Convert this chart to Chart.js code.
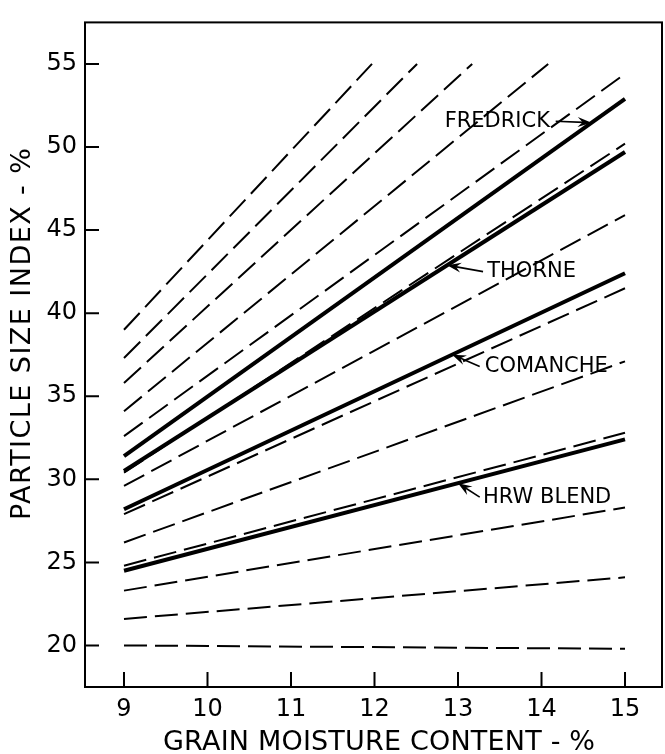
<!DOCTYPE html>
<html>
<head>
<meta charset="utf-8">
<script src="https://cdn.jsdelivr.net/npm/chart.js@4.4.1/dist/chart.umd.min.js"></script>
<style>
  html, body { margin: 0; padding: 0; background: #fff; }
  canvas { display: block; }
</style>
</head>
<body>
<canvas id="chart" width="665" height="754"></canvas>
<script>
// tick values
const xTicks = [9, 10, 11, 12, 13, 14, 15];
const yTicks = [20, 25, 30, 35, 40, 45, 50, 55];

// wheat varieties (solid lines), values at 9 % and 15 % moisture
const varieties = ['FREDRICK', 'THORNE', 'COMANCHE', 'HRW BLEND'];
const varietyStart = [31.4, 30.5, 28.2, 24.5];
const varietyEnd = [52.9, 49.7, 42.4, 32.4];

// background family of dashed lines: start at 9 %, end point (x, y)
const dashStart = [39.0, 37.3, 35.8, 34.1, 32.6, 30.4, 29.6, 27.9, 26.2, 24.8, 23.3, 21.6, 20.0];
const dashEndX = [11.97, 12.51, 13.17, 14.08, 15, 15, 15, 15, 15, 15, 15, 15, 15];
const dashEndY = [55, 55, 55, 55, 54.4, 50.2, 45.9, 41.5, 37.1, 32.8, 28.3, 24.1, 19.8];

// label placement (data units): text left x, text y, arrow tail x, arrow tip x
const labelX = [12.84, 13.35, 13.32, 13.30];
const labelY = [51.55, 42.5, 36.79, 28.93];
const arrowFromX = [14.17, 13.30, 13.26, 13.26];
const arrowToX = [14.60, 12.87, 12.93, 13.00];

const FONT = "'DejaVu Sans', sans-serif";
Chart.defaults.font.family = FONT;
Chart.defaults.color = '#000';

const datasets = [];
varieties.forEach((name, i) => {
  datasets.push({
    label: name,
    data: [{ x: 9, y: varietyStart[i] }, { x: 15, y: varietyEnd[i] }],
    borderColor: '#000',
    borderWidth: 4,
    pointRadius: 0,
    fill: false
  });
});
dashStart.forEach((s, i) => {
  datasets.push({
    label: 'ref' + i,
    data: [{ x: 9, y: s }, { x: dashEndX[i], y: dashEndY[i] }],
    borderColor: '#000',
    borderWidth: 2,
    borderDash: [23, 8],
    pointRadius: 0,
    fill: false
  });
});

function lineValueAt(i, xv) {
  return varietyStart[i] + (varietyEnd[i] - varietyStart[i]) * (xv - 9) / 6;
}

function spacedText(ctx, text, cx, cy, width) {
  ctx.letterSpacing = '0px';
  const w = ctx.measureText(text).width;
  const sp = Math.max(0, (width - w) / (text.length - 1));
  ctx.letterSpacing = sp + 'px';
  ctx.textAlign = 'center';
  ctx.textBaseline = 'middle';
  ctx.fillText(text, cx + sp / 2, cy);
  ctx.letterSpacing = '0px';
}

const decorations = {
  id: 'decorations',
  afterDraw(chart) {
    const { ctx, chartArea: a, scales: { x, y } } = chart;
    ctx.save();
    ctx.strokeStyle = '#000';
    ctx.fillStyle = '#000';
    ctx.lineWidth = 2;
    ctx.strokeRect(a.left, a.top, a.right - a.left, a.bottom - a.top);

    // inward tick marks
    ctx.beginPath();
    yTicks.forEach(v => {
      const py = y.getPixelForValue(v);
      ctx.moveTo(a.left, py);
      ctx.lineTo(a.left + 14, py);
    });
    xTicks.forEach(v => {
      const px = x.getPixelForValue(v);
      ctx.moveTo(px, a.bottom);
      ctx.lineTo(px, a.bottom - 15);
    });
    ctx.stroke();

    // variety labels with arrows
    ctx.font = '21px ' + FONT;
    ctx.textAlign = 'left';
    ctx.textBaseline = 'middle';
    varieties.forEach((name, i) => {
      const tx = x.getPixelForValue(labelX[i]);
      const ty = y.getPixelForValue(labelY[i]);
      ctx.fillText(name, tx, ty);

      const x0 = x.getPixelForValue(arrowFromX[i]);
      const y0 = ty;
      const x1 = x.getPixelForValue(arrowToX[i]);
      const y1 = y.getPixelForValue(lineValueAt(i, arrowToX[i]));
      const ang = Math.atan2(y1 - y0, x1 - x0);
      ctx.lineWidth = 1.6;
      ctx.beginPath();
      ctx.moveTo(x0, y0);
      ctx.lineTo(x1 - 8 * Math.cos(ang), y1 - 8 * Math.sin(ang));
      ctx.stroke();
      ctx.beginPath();
      ctx.moveTo(x1, y1);
      ctx.lineTo(x1 - 14 * Math.cos(ang) + 5 * Math.sin(ang), y1 - 14 * Math.sin(ang) - 5 * Math.cos(ang));
      ctx.lineTo(x1 - 9 * Math.cos(ang), y1 - 9 * Math.sin(ang));
      ctx.lineTo(x1 - 14 * Math.cos(ang) - 5 * Math.sin(ang), y1 - 14 * Math.sin(ang) + 5 * Math.cos(ang));
      ctx.closePath();
      ctx.fill();
    });

    // axis titles
    ctx.font = '27px ' + FONT;
    spacedText(ctx, 'GRAIN MOISTURE CONTENT - %', 379, 743, 432);
    ctx.translate(23, 334);
    ctx.rotate(-Math.PI / 2);
    spacedText(ctx, 'PARTICLE SIZE INDEX - %', 0, 0, 372);
    ctx.restore();
  }
};

new Chart(document.getElementById('chart'), {
  type: 'line',
  data: { datasets },
  options: {
    responsive: false,
    animation: false,
    devicePixelRatio: 1,
    layout: { padding: { top: 15, right: 3, left: 0, bottom: 0 } },
    elements: { line: { tension: 0 } },
    plugins: { legend: { display: false }, tooltip: { enabled: false } },
    scales: {
      x: {
        type: 'linear',
        min: 8.533,
        max: 15.443,
        grid: { display: false, drawTicks: false },
        border: { display: false },
        ticks: { font: { size: 24 }, color: '#000', padding: 8, autoSkip: false, maxRotation: 0 },
        afterBuildTicks: s => { s.ticks = xTicks.map(v => ({ value: v })); },
        afterFit: s => { s.height = 67; }
      },
      y: {
        type: 'linear',
        min: 17.5,
        max: 57.5,
        grid: { display: false, drawTicks: false },
        border: { display: false },
        ticks: { font: { size: 24 }, color: '#000', padding: 8, autoSkip: false },
        afterBuildTicks: s => { s.ticks = yTicks.map(v => ({ value: v })); },
        afterFit: s => { s.width = 85; }
      }
    }
  },
  plugins: [decorations]
});
</script>
</body>
</html>
